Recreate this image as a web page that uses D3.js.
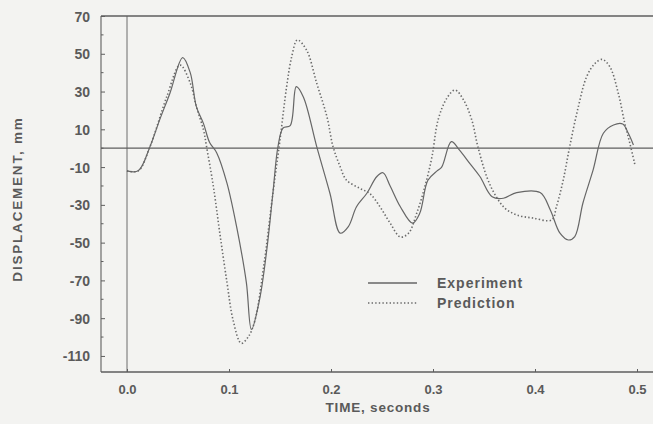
<!DOCTYPE html>
<html>
<head>
<meta charset="utf-8">
<script src="https://cdn.jsdelivr.net/npm/d3@7"></script>
<style>
  html, body { margin: 0; padding: 0; background: #f3f3f1; }
  svg { display: block; }
  text { font-family: "Liberation Sans", Arial, sans-serif; font-weight: bold; fill: #5a5a5a; }
</style>
</head>
<body>
<svg id="chart" width="653" height="424"></svg>
<script>
// ---- data ----
const expTime = [0.000, 0.011, 0.0225, 0.032, 0.042, 0.0546, 0.062, 0.068, 0.075, 0.081, 0.088, 0.098, 0.1075, 0.117, 0.122,
  0.130, 0.137, 0.143, 0.148, 0.153, 0.160, 0.166, 0.173, 0.186, 0.199, 0.209, 0.217, 0.225, 0.235, 0.245, 0.251,
  0.258, 0.268, 0.280, 0.287, 0.295, 0.304, 0.3085, 0.318, 0.326, 0.336, 0.346, 0.358, 0.369, 0.382, 0.405, 0.415,
  0.4245, 0.4327, 0.439, 0.447, 0.457, 0.467, 0.477, 0.486, 0.4915, 0.4965];
const expValue = [-12, -12, 0.8, 15, 29, 48, 40, 22, 13, 3, -2.5, -18.5, -41.7, -71, -96,
  -80, -54, -24, 0.8, 10.7, 12, 32.6, 27, 0.8, -24, -45, -41.5, -31, -24, -15, -13,
  -20, -31, -39.7, -34.5, -17, -12, -10, 3.5, -1, -8, -15, -25.7, -26.5, -23.5, -23.5, -32.7,
  -45, -48.6, -46.8, -29, -11.5, 7.9, 12.3, 12.8, 7.9, 1.7];

const predTime = [0.000, 0.011, 0.0225, 0.039, 0.052, 0.062, 0.068, 0.075, 0.078, 0.0846, 0.091, 0.098, 0.104, 0.112, 0.119,
  0.1255, 0.134, 0.143, 0.150, 0.1565, 0.1615, 0.167, 0.176, 0.186, 0.196, 0.202, 0.209, 0.215, 0.228, 0.238,
  0.248, 0.258, 0.268, 0.276, 0.284, 0.292, 0.299, 0.305, 0.3135, 0.3216, 0.330, 0.338, 0.344, 0.3526, 0.361,
  0.3706, 0.382, 0.398, 0.4164, 0.421, 0.4277, 0.434, 0.4425, 0.4507, 0.459, 0.466, 0.4735, 0.4817, 0.488, 0.493, 0.498];
const predValue = [-12, -12, 0.8, 27.3, 44, 34.5, 22, 9.7, 0.8, -20, -45, -71, -91, -103.3, -99.8,
  -91, -62.7, -24, 4.4, 32.6, 48.5, 57.3, 52, 34.4, 16.7, 0.8, -9.8, -16.8, -21.2, -24,
  -31, -39.7, -47, -45, -34.5, -20.4, -4.5, 15, 26.4, 30.8, 25.5, 15, 0.8, -15, -24.8,
  -31.8, -35.3, -37, -38, -31, -16.8, 0.8, 22, 37.9, 45, 47, 43, 29, 13.2, 2.6, -8.9];

const yTicks = [70, 50, 30, 10, -10, -30, -50, -70, -90, -110];
const xTicks = [0.0, 0.1, 0.2, 0.3, 0.4, 0.5];
const seriesNames = ["Experiment", "Prediction"];

(function () {
// ---- scales ----
const W = 653, H = 424;
const x = d3.scaleLinear().domain([0, 0.5]).range([127, 637]);
const y = d3.scaleLinear().domain([-118.5, 70]).range([372, 16]);
const pL = 101, pR = W, pT = y(70), pB = y(-118.5);

const svg = d3.select("#chart");
const ink = "#5e5e5e";

// frame lines
svg.append("line").attr("x1", pL).attr("x2", pR).attr("y1", pT).attr("y2", pT)
  .attr("stroke", ink).attr("stroke-width", 1.3);
svg.append("line").attr("x1", pL).attr("x2", pR).attr("y1", pB).attr("y2", pB)
  .attr("stroke", ink).attr("stroke-width", 1.3);
svg.append("line").attr("x1", pL).attr("x2", pL).attr("y1", pT).attr("y2", pB)
  .attr("stroke", ink).attr("stroke-width", 1.1);
// zero reference lines
svg.append("line").attr("x1", x(0)).attr("x2", x(0)).attr("y1", pT).attr("y2", pB)
  .attr("stroke", ink).attr("stroke-width", 0.9);
svg.append("line").attr("x1", pL).attr("x2", pR).attr("y1", y(0)).attr("y2", y(0))
  .attr("stroke", ink).attr("stroke-width", 1.3);

// y axis
const yAxis = d3.axisRight(y).tickValues(yTicks).tickSize(4).tickFormat(d => String(d));
const yg = svg.append("g").attr("transform", `translate(${pL},0)`).call(yAxis);
yg.select(".domain").remove();
yg.selectAll(".tick line").attr("stroke", ink);
yg.selectAll(".tick text").attr("x", -11).attr("text-anchor", "end")
  .style("font-size", "14px").attr("fill", "#555").attr("dy", "0.36em");
// minor y ticks
const yMinor = d3.range(-120, 71, 10).filter(v => !yTicks.includes(v) && v >= -118 && v <= 70);
svg.append("g").selectAll("line").data(yMinor).join("line")
  .attr("x1", pL).attr("x2", pL + 2.5).attr("y1", d => y(d)).attr("y2", d => y(d))
  .attr("stroke", ink);

// x axis
const xAxis = d3.axisTop(x).tickValues(xTicks).tickSize(3).tickFormat(d3.format(".1f"));
const xg = svg.append("g").attr("transform", `translate(0,${pB})`).call(xAxis);
xg.select(".domain").remove();
xg.selectAll(".tick line").attr("stroke", ink);
xg.selectAll(".tick text").attr("y", 17).attr("dy", "0.36em")
  .style("font-size", "13px").attr("fill", "#555");

// axis titles
svg.append("text").attr("x", 378).attr("y", 412).attr("text-anchor", "middle")
  .style("font-size", "13.5px").style("letter-spacing", "0.8px").text("TIME, seconds");
svg.append("text").attr("transform", "translate(22,199) rotate(-90)").attr("text-anchor", "middle")
  .style("font-size", "13.5px").style("letter-spacing", "1.8px").text("DISPLACEMENT, mm");

// curves
const line = d3.line().x(d => x(d[0])).y(d => y(d[1])).curve(d3.curveCatmullRom.alpha(0.5));
const expData = expTime.map((t, i) => [t, expValue[i]]);
const predData = predTime.map((t, i) => [t, predValue[i]]);

svg.append("path").datum(predData).attr("d", line).attr("fill", "none")
  .attr("stroke", "#6a6a6a").attr("stroke-width", 1.6).attr("stroke-dasharray", "1.4,2.2");
svg.append("path").datum(expData).attr("d", line).attr("fill", "none")
  .attr("stroke", "#666").attr("stroke-width", 1.2);

// legend
const legend = svg.append("g");
const legY = [283, 303];
seriesNames.forEach((name, i) => {
  legend.append("line").attr("x1", 368).attr("x2", 417).attr("y1", legY[i]).attr("y2", legY[i])
    .attr("stroke", i === 0 ? "#666" : "#6a6a6a")
    .attr("stroke-width", i === 0 ? 1.3 : 1.6)
    .attr("stroke-dasharray", i === 0 ? null : "1.4,2.2");
  legend.append("text").attr("x", 437).attr("y", legY[i]).attr("dy", "0.36em")
    .style("font-size", "14px").style("letter-spacing", "1px").text(name);
});
})();
</script>
</body>
</html>
